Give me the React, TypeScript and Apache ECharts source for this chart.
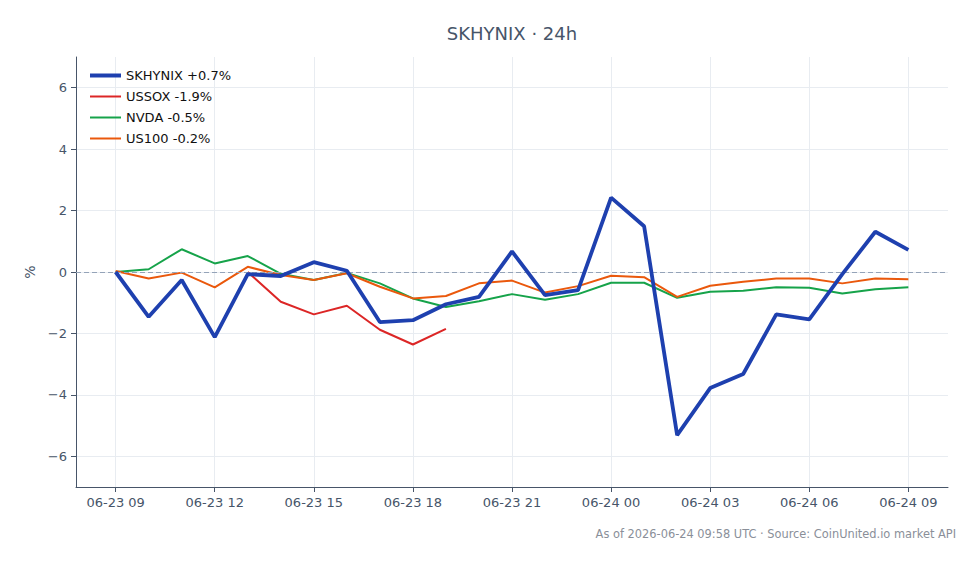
import React, { useEffect, useRef } from "react";
import * as echarts from "echarts";

// hours since 06-23 09:00
const hours = [0, 1, 2, 3, 4, 5, 6, 7, 8, 9, 10, 11, 12, 13, 14, 15, 16, 17, 18, 19, 20, 21, 22, 23, 24];

const skhynix = [0, -1.46, -0.26, -2.12, -0.07, -0.13, 0.32, 0.04, -1.63, -1.57, -1.05, -0.81, 0.67, -0.75, -0.59, 2.42, 1.49, -5.31, -3.78, -3.32, -1.38, -1.54, -0.07, 1.31, 0.72];
const ussox = [null, null, null, null, 0.0, -0.97, -1.38, -1.1, -1.88, -2.36, -1.85, null, null, null, null, null, null, null, null, null, null, null, null, null, null];
const nvda = [0, 0.09, 0.74, 0.28, 0.52, -0.06, -0.26, -0.03, -0.37, -0.86, -1.14, -0.95, -0.72, -0.9, -0.72, -0.35, -0.35, -0.84, -0.64, -0.61, -0.5, -0.51, -0.7, -0.56, -0.5];
const us100 = [0.03, -0.21, -0.02, -0.5, 0.17, -0.1, -0.26, -0.04, -0.48, -0.86, -0.78, -0.37, -0.28, -0.67, -0.46, -0.12, -0.17, -0.81, -0.45, -0.32, -0.21, -0.21, -0.37, -0.21, -0.24];

const seriesNames = ["SKHYNIX +0.7%", "USSOX -1.9%", "NVDA -0.5%", "US100 -0.2%"];
const seriesColors = ["#1e40af", "#dc2626", "#16a34a", "#ea580c"];

const xTickHours = [0, 3, 6, 9, 12, 15, 18, 21, 24];
const xTickLabels = ["06-23 09", "06-23 12", "06-23 15", "06-23 18", "06-23 21", "06-24 00", "06-24 03", "06-24 06", "06-24 09"];
const yTicks = [-6, -4, -2, 0, 2, 4, 6];

const FONT = "DejaVu Sans";

export default function App() {
  const ref = useRef<HTMLDivElement>(null);
  useEffect(() => {
    if (!ref.current) return;
    const chart = echarts.init(ref.current, null, { renderer: "svg" });
    const mk = (vals: (number | null)[]) => hours.map((h, i) => [h, vals[i]]);
    const allData = [skhynix, ussox, nvda, us100];
    const axisColor = "#475569";
    chart.setOption({
      animation: false,
      backgroundColor: "#ffffff",
      title: {
        text: "SKHYNIX · 24h",
        left: 507,
        top: 19,
        textAlign: "center",
        textStyle: { fontFamily: FONT, fontSize: 18, fontWeight: "normal", color: "#475569" },
      },
      grid: { left: 76, right: 32, top: 57, bottom: 77 },
      legend: {
        orient: "vertical",
        left: 85,
        top: 64,
        itemWidth: 31,
        itemHeight: 14,
        itemGap: 8,
        symbolKeepAspect: true,
        textStyle: { fontFamily: FONT, fontSize: 13, color: "#111" },
        data: seriesNames.map((n, i) => ({
          name: n,
          icon: i === 0 ? "path://M0,0H31V4H0Z" : "path://M0,0H31V2H0Z",
        })),
      },
      xAxis: {
        type: "value",
        min: -1.2,
        max: 25.2,
        axisLine: { show: true, onZero: false, lineStyle: { color: axisColor, width: 1 } },
        axisTick: { show: true, length: 5, customValues: xTickHours, lineStyle: { color: axisColor } },
        axisLabel: {
          customValues: xTickHours,
          margin: 9,
          fontFamily: FONT,
          fontSize: 13,
          color: axisColor,
          formatter: (v: number) => {
            const idx = xTickHours.indexOf(Math.round(v));
            return idx >= 0 ? xTickLabels[idx] : "";
          },
        },
        splitLine: { show: true, lineStyle: { color: "#e8ecf1", width: 1 } },
      },
      yAxis: {
        type: "value",
        min: -7,
        max: 7,
        name: "%",
        nameLocation: "middle",
        nameGap: 39,
        nameRotate: 90,
        nameTextStyle: { fontFamily: FONT, fontSize: 14, color: axisColor },
        axisLine: { show: true, onZero: false, lineStyle: { color: axisColor, width: 1 } },
        axisTick: { show: true, length: 5, customValues: yTicks, lineStyle: { color: axisColor } },
        axisLabel: {
          customValues: yTicks,
          margin: 9,
          fontFamily: FONT,
          fontSize: 13,
          color: axisColor,
          formatter: (v: number) => (v < 0 ? "\u2212" + Math.abs(v) : String(v)),
        },
        splitLine: { show: true, lineStyle: { color: "#e8ecf1", width: 1 } },
      },
      series: allData.map((vals, i) => ({
        name: seriesNames[i],
        type: "line",
        data: mk(vals),
        symbol: "none",
        connectNulls: false,
        z: i === 0 ? 5 : 3,
        lineStyle: { color: seriesColors[i], width: i === 0 ? 3.8 : 2 },
        itemStyle: { color: seriesColors[i] },
        ...(i === 0
          ? {
              markLine: {
                silent: true,
                symbol: "none",
                label: { show: false },
                lineStyle: { color: "#94a3b8", type: [5, 3], width: 1 },
                data: [{ yAxis: 0 }],
              },
            }
          : {}),
      })),
      graphic: [
        {
          type: "text",
          right: 24,
          top: 528,
          style: {
            text: "As of 2026-06-24 09:58 UTC · Source: CoinUnited.io market API",
            fontFamily: FONT,
            fontSize: 11.4,
            fill: "#8a8f99",
          },
        },
      ],
    });
    return () => chart.dispose();
  }, []);
  return <div ref={ref} style={{ width: 980, height: 564, position: "absolute", left: 0, top: 0 }} />;
}
